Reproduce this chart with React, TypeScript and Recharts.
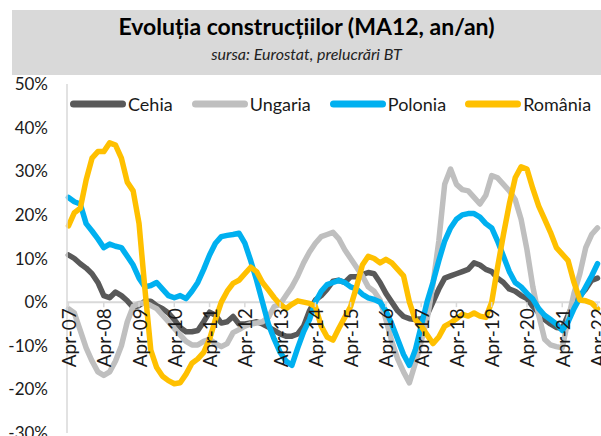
import React from 'react';
import { LineChart, Line, XAxis, YAxis, ReferenceLine, ReferenceDot, Legend } from 'recharts';

// Bimonthly categories, Apr-07 .. Apr-22
const MONTH_NAMES = ['Jan', 'Feb', 'Mar', 'Apr', 'May', 'Jun', 'Jul', 'Aug', 'Sep', 'Oct', 'Nov', 'Dec'];
const categories: string[] = [];
for (let k = 0; k <= 180; k += 2) {
  const mIdx = (3 + k) % 12;
  const yr = 7 + Math.floor((3 + k) / 12);
  categories.push(`${MONTH_NAMES[mIdx]}-${String(yr).padStart(2, '0')}`);
}

const tickLabels = [
  'Apr-07', 'Apr-08', 'Apr-09', 'Apr-10', 'Apr-11', 'Apr-12', 'Apr-13', 'Apr-14',
  'Apr-15', 'Apr-16', 'Apr-17', 'Apr-18', 'Apr-19', 'Apr-20', 'Apr-21', 'Apr-22',
];

const yTicks = [-30, -20, -10, 0, 10, 20, 30, 40, 50];

const cehia = [
  10.8, 10.0, 8.8, 7.8, 6.5, 4.5, 1.5, 1.0, 2.3, 1.5,
  0.3, -1.2, -0.8, 0.2, 0.2, -0.8, -1.5, -2.5, -4.0, -5.8,
  -6.8, -6.8, -6.5, -4.5, -2.3, -3.0, -4.8, -4.5, -3.3, -5.0,
  -5.0, -4.8, -4.5, -5.0, -5.7, -6.5, -7.3, -7.8, -7.8, -7.3,
  -5.5, -2.0, 0.5, 1.5, 3.0, 4.8, 5.0, 4.5, 5.8, 5.8,
  6.3, 6.8, 6.5, 4.5, 2.0, 0.0, -2.0, -3.3, -3.8, -4.0,
  -3.8, -3.0, 0.0, 3.0, 5.5, 6.0, 6.5, 7.0, 7.5, 9.0,
  8.5, 7.5, 7.0, 5.5, 4.5, 3.0, 2.5, 1.5, 0.8, -1.0,
  -2.5, -4.0, -5.0, -5.8, -6.0, -3.0, 0.0, 1.5, 3.0, 5.0,
  5.5,
];

const ungaria = [
  -1.5, -2.5, -6.5, -10.5, -13.5, -16.0, -16.8, -16.0, -13.5, -10.0,
  -4.5, -1.0, -0.3, -0.2, -0.8, -1.5, -3.0, -4.5, -6.0, -7.5,
  -9.0, -9.8, -9.8, -9.0, -8.5, -9.5, -10.2, -9.5, -7.0, -6.3,
  -5.5, -5.0, -4.8, -4.5, -3.5, -1.0, -0.5, 1.5, 3.5, 6.0,
  9.0, 11.5, 13.5, 15.0, 15.5, 16.0, 14.5, 12.0, 10.0, 8.0,
  6.0, 3.5, 2.5, 0.5, -4.0, -9.0, -13.0, -16.0, -18.5, -14.0,
  -9.0, -4.0, 4.0, 14.0, 27.0, 30.5, 27.0, 25.8, 25.5, 24.0,
  22.5, 24.5, 29.0, 28.5, 27.0, 25.5, 23.5, 19.0, 12.0, 3.5,
  -3.0, -8.5, -9.8, -10.2, -10.5, -4.0, 2.0, 6.5, 12.5, 15.5,
  17.0,
];

const polonia = [
  24.0, 23.0, 22.5, 18.0, 16.3, 14.5, 12.5, 13.3, 12.8, 12.5,
  10.5, 8.5, 5.5, 3.5, 3.8, 4.5, 3.0, 1.5, 1.0, 1.5,
  0.8, 2.5, 4.5, 7.5, 10.8, 13.5, 15.0, 15.3, 15.5, 15.8,
  13.5, 9.5, 5.0, 0.0, -5.0, -8.5, -11.5, -13.5, -14.5, -10.5,
  -6.8, -4.0, 0.0, 2.5, 4.0, 4.5, 5.0, 4.5, 3.5, 3.0,
  1.8, 1.0, 0.6, 0.0, -2.0, -5.0, -8.5, -12.0, -14.5, -11.0,
  -5.5, 0.0, 4.5, 9.5, 14.0, 17.0, 19.0, 20.0, 20.3, 20.3,
  19.5, 18.0, 17.0, 14.0, 10.5, 7.0, 4.5, 3.5, 2.0, 0.7,
  -1.5, -3.0, -4.0, -5.0, -6.5, -4.5, -1.5, 1.0, 3.5, 6.0,
  8.8,
];

const romania = [
  17.5, 20.5, 21.5, 28.0, 33.0, 34.5, 34.5, 36.5, 36.0, 33.0,
  27.5, 25.5, 18.0, 3.0, -11.0, -15.0, -17.0, -18.0, -18.7, -18.5,
  -16.5, -14.0, -13.0, -11.5, -8.5, -4.0, 0.0, 2.5, 4.3, 5.0,
  6.5, 8.0, 7.0, 4.5, 2.8, 1.0, -0.5, -1.5, -0.5, 0.3,
  0.0, -0.3, -1.0, -5.5, -8.0, -8.7, -6.0, -3.5, -1.0, 3.5,
  8.5, 10.5, 10.0, 9.0, 9.8, 9.0, 7.5, 6.0, 0.0, -4.0,
  -5.5, -7.5, -9.5, -8.0, -5.5, -4.8, -3.8, -2.8, -3.2, -2.5,
  -3.2, -3.5, 0.0, 8.0, 15.5, 22.5, 28.5, 31.0, 30.5, 26.0,
  22.0, 19.0, 16.0, 12.5, 11.0, 9.5, 4.5, 0.5, 0.3, -0.2,
  -1.5,
];

const seriesNames = ['Cehia', 'Ungaria', 'Polonia', 'România'];
const seriesColors = ['#595959', '#bfbfbf', '#00b0f0', '#ffc000'];

const data = categories.map((month, i) => ({
  month,
  Cehia: cehia[i],
  Ungaria: ungaria[i],
  Polonia: polonia[i],
  'România': romania[i],
}));

const FONT = 'Lato, "Noto Sans", sans-serif';

const TickMark = (label: string) => (props: any) => {
  const { cx, cy } = props;
  if (cx == null || cy == null) return <g />;
  return (
    <g>
      <line x1={cx} y1={cy} x2={cx} y2={cy + 5} stroke="#d9d9d9" strokeWidth={1.5} />
      <text
        x={cx}
        y={cy + 6}
        transform={`rotate(-90 ${cx} ${cy + 6})`}
        textAnchor="end"
        dominantBaseline="central"
        fontFamily={FONT}
        fontSize={19}
        fill="#1a1a1a"
      >
        {label}
      </text>
    </g>
  );
};

const renderLegend = () => (
  <div style={{ display: 'flex', alignItems: 'center', gap: 19, fontFamily: FONT, fontSize: 18, color: '#1a1a1a', lineHeight: '22px' }}>
    {seriesNames.map((name, i) => (
      <div key={name} style={{ display: 'flex', alignItems: 'center' }}>
        <svg width={56} height={10} style={{ display: 'block' }}>
          <line x1={3.5} y1={5} x2={52.5} y2={5} stroke={seriesColors[i]} strokeWidth={7} strokeLinecap="round" />
        </svg>
        <span style={{ marginLeft: 2 }}>{name}</span>
      </div>
    ))}
  </div>
);

export default function App() {
  return (
    <div style={{ position: 'absolute', left: 0, top: 0, width: 601, height: 436, background: '#fff', overflow: 'hidden' }}>
      <div style={{ position: 'absolute', left: 0, top: 0 }}>
        <LineChart width={601} height={436} data={data} margin={{ top: 84, right: 1, bottom: 3, left: 7 }}>
          <XAxis
            dataKey="month"
            height={0}
            tick={false}
            tickLine={false}
            axisLine={{ stroke: '#d9d9d9', strokeWidth: 1.5 }}
            padding={{ left: 1.5, right: 2.5 }}
            interval={0}
          />
          <XAxis
            xAxisId="top"
            dataKey="month"
            orientation="top"
            height={0}
            tick={false}
            tickLine={false}
            axisLine={{ stroke: '#d9d9d9', strokeWidth: 1.5 }}
          />
          <YAxis
            domain={[-30, 50]}
            ticks={yTicks}
            interval={0}
            tickFormatter={(v: number) => `${v}%`}
            width={60}
            tickSize={0}
            tickMargin={19}
            tickLine={false}
            axisLine={{ stroke: '#d9d9d9', strokeWidth: 1.5 }}
            tick={{ fontFamily: FONT, fontSize: 17, fill: '#1a1a1a' }}
          />
          <YAxis
            yAxisId="right"
            orientation="right"
            width={0}
            tick={false}
            tickLine={false}
            axisLine={{ stroke: '#d9d9d9', strokeWidth: 1.5 }}
          />
          <ReferenceLine y={0} stroke="#d9d9d9" strokeWidth={2} />
          {seriesNames.map((name, i) => (
            <Line
              key={name}
              type="linear"
              dataKey={name}
              name={name}
              stroke={seriesColors[i]}
              strokeWidth={5.5}
              strokeLinejoin="round"
              strokeLinecap="round"
              dot={false}
              activeDot={false}
              isAnimationActive={false}
            />
          ))}
          {tickLabels.map((t) => (
            <ReferenceDot key={t} x={t} y={0} r={0} shape={TickMark(t)} />
          ))}
          <Legend
            verticalAlign="middle"
            align="center"
            layout="horizontal"
            wrapperStyle={{ top: 93, left: 70, width: 540, height: 22 }}
            content={renderLegend}
          />
        </LineChart>
      </div>
      <div
        style={{
          position: 'absolute',
          left: 12,
          top: 10,
          width: 589,
          height: 65,
          background: '#d9d9d9',
          textAlign: 'center',
          color: '#000',
        }}
      >
        <div style={{ marginTop: 3, fontFamily: FONT, fontWeight: 700, fontSize: 23, lineHeight: '26px' }}>
          Evoluția construcțiilor (MA12, an/an)
        </div>
        <div style={{ marginTop: 6, fontFamily: FONT, fontStyle: 'italic', fontSize: 16, lineHeight: '18px', color: '#222' }}>
          sursa: Eurostat, prelucrări BT
        </div>
      </div>
    </div>
  );
}
